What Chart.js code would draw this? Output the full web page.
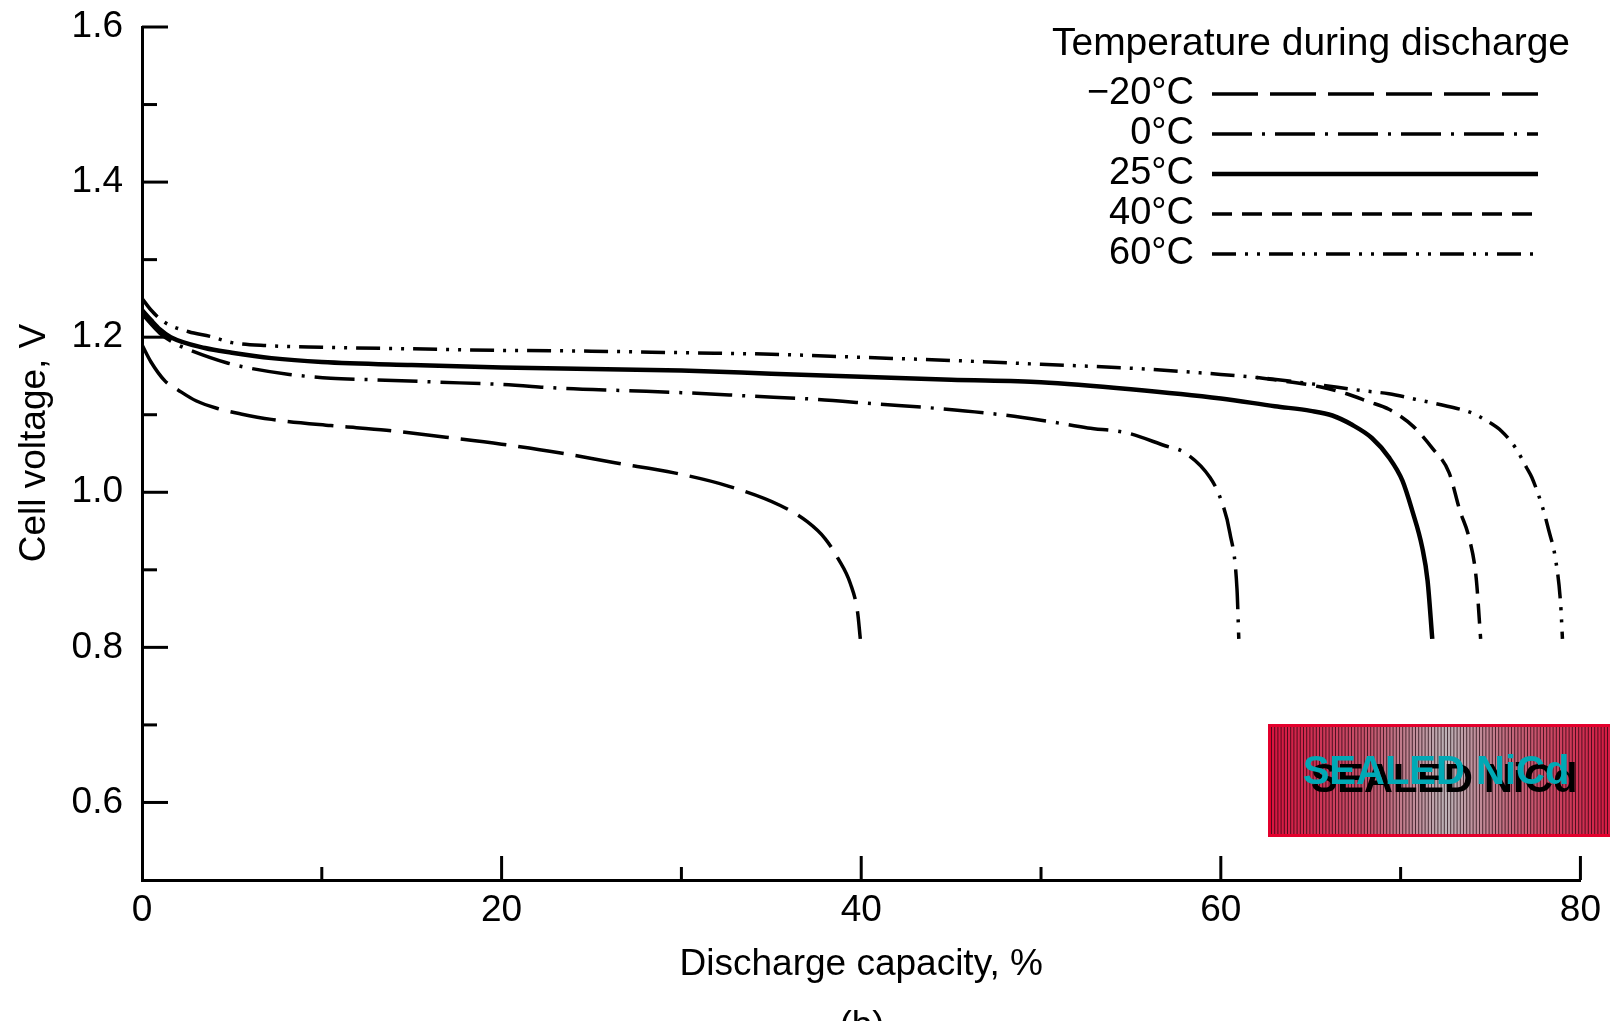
<!DOCTYPE html>
<html>
<head>
<meta charset="utf-8">
<script src="https://cdn.jsdelivr.net/npm/chart.js@4.4.0/dist/chart.umd.min.js"></script>
<style>
  html, body { margin: 0; padding: 0; background: #fff; }
  #wrap { width: 1610px; height: 1021px; }
</style>
</head>
<body>
<div id="wrap"><canvas id="dischargeChart" width="1610" height="1021"></canvas></div>
<script>
// Values (discharge capacity %, cell voltage V)
const tempLabels = ["\u221220\u00b0C", "0\u00b0C", "25\u00b0C", "40\u00b0C", "60\u00b0C"];

const capM20 = [0, 0.5, 1.3, 2, 3, 4.2, 5.5, 7.2, 10.5, 13.6, 16.9, 20, 23.2, 26.3, 29.6, 32.6, 35.5, 37, 38, 38.7, 39.4, 39.8, 39.95];
const voltM20 = [1.19, 1.168, 1.143, 1.132, 1.118, 1.108, 1.101, 1.094, 1.086, 1.080, 1.071, 1.062, 1.051, 1.038, 1.025, 1.008, 0.983, 0.962, 0.940, 0.915, 0.882, 0.845, 0.811];

const cap0 = [0, 1, 2, 2.7, 4.7, 6, 8.2, 10.5, 13, 16.5, 20, 23.4, 27, 30.5, 33.9, 37.4, 40.8, 44.3, 47.8, 50, 52.6, 54.7, 56.9, 58, 59.4, 60, 60.5, 60.9, 61];
const volt0 = [1.23, 1.205, 1.19, 1.183, 1.167, 1.160, 1.152, 1.147, 1.145, 1.142, 1.139, 1.134, 1.131, 1.128, 1.124, 1.12, 1.114, 1.108, 1.100, 1.093, 1.083, 1.077, 1.060, 1.051, 1.019, 0.991, 0.948, 0.875, 0.811];

const cap25 = [0, 0.5, 1, 1.6, 3.5, 5, 7.2, 10, 15, 20, 25, 30, 35, 40, 45, 50, 55, 60, 63, 65, 66.2, 67.3, 68.4, 69.35, 70.1, 70.65, 71.2, 71.5, 71.76];
const volt25 = [1.235, 1.222, 1.21, 1.20, 1.186, 1.18, 1.173, 1.168, 1.164, 1.161, 1.159, 1.157, 1.153, 1.149, 1.145, 1.142, 1.133, 1.121, 1.111, 1.105, 1.099, 1.087, 1.070, 1.045, 1.015, 0.976, 0.929, 0.886, 0.811];

// the 40 °C curve lies on the 60 °C one until it splits off near 63 %
const cap40 = [62, 63, 65.5, 67, 68.2, 69.35, 70.7, 71.76, 72.7, 73.3, 73.8, 74.2, 74.45];
const volt40 = [1.148, 1.145, 1.136, 1.127, 1.117, 1.107, 1.085, 1.057, 1.025, 0.976, 0.942, 0.890, 0.811];

const cap60 = [0, 0.5, 1.2, 2.6, 3.8, 5, 7, 10, 15, 20, 25, 30, 35, 40, 45, 50, 55, 60, 62, 65, 67.9, 69.35, 70.8, 72.6, 74, 74.8, 75.6, 76.4, 77, 77.3, 77.9, 78.25, 78.6, 78.9, 79];
const volt60 = [1.25, 1.235, 1.22, 1.207, 1.201, 1.193, 1.189, 1.187, 1.185, 1.183, 1.182, 1.180, 1.178, 1.174, 1.170, 1.165, 1.160, 1.152, 1.148, 1.140, 1.131, 1.127, 1.12, 1.111, 1.102, 1.092, 1.079, 1.057, 1.032, 1.019, 0.98, 0.95, 0.916, 0.856, 0.811];

const xTickLabels = [0, 20, 40, 60, 80];
const yTickLabels = [0.6, 0.8, 1.0, 1.2, 1.4, 1.6];

const FONT = "'Liberation Sans', Arial, sans-serif";

function toPoints(xs, ys) {
  return xs.map((x, i) => ({ x: x, y: ys[i] }));
}

function isYLabel(v) {
  return yTickLabels.some(t => Math.abs(t - v) < 1e-6);
}

// inward tick marks on both axes + rotated y title
const axisTicks = {
  id: "axisTicks",
  afterDraw(chart) {
    const ctx = chart.ctx;
    const xs = chart.scales.x, ys = chart.scales.y;
    const area = chart.chartArea;
    ctx.save();
    ctx.strokeStyle = "#000";
    ctx.lineWidth = 3;
    ys.ticks.forEach(t => {
      const v = Math.round(t.value * 10) / 10;
      if (v <= 0.5) return;
      const len = isYLabel(v) ? 26 : 15;
      const py = ys.getPixelForValue(v);
      ctx.beginPath();
      ctx.moveTo(area.left, py);
      ctx.lineTo(area.left + len, py);
      ctx.stroke();
    });
    xs.ticks.forEach(t => {
      if (t.value <= 0) return;
      const len = xTickLabels.includes(t.value) ? 24 : 13;
      const px = xs.getPixelForValue(t.value);
      ctx.beginPath();
      ctx.moveTo(px, area.bottom);
      ctx.lineTo(px, area.bottom - len);
      ctx.stroke();
    });

    ctx.translate(35, 443);
    ctx.rotate(-Math.PI / 2);
    ctx.fillStyle = "#000";
    ctx.font = "37px " + FONT;
    ctx.textAlign = "center";
    ctx.textBaseline = "middle";
    ctx.fillText("Cell voltage, V", 0, 0);
    ctx.restore();
  }
};

// legend: label then line sample, as in the figure
const tempLegend = {
  id: "tempLegend",
  afterDraw(chart) {
    const ctx = chart.ctx;
    ctx.save();
    ctx.fillStyle = "#000";
    ctx.font = "39px " + FONT;
    ctx.textAlign = "center";
    ctx.textBaseline = "middle";
    ctx.fillText("Temperature during discharge", 1311, 44);
    ctx.font = "38px " + FONT;
    chart.data.datasets.forEach((ds, i) => {
      const y = 94 + i * 40;
      ctx.textAlign = "right";
      ctx.fillText(ds.label, 1194, y);
      ctx.strokeStyle = "#000";
      ctx.lineWidth = ds.borderWidth;
      ctx.setLineDash(ds.borderDash || []);
      ctx.beginPath();
      ctx.moveTo(1212, y);
      ctx.lineTo(1538, y);
      ctx.stroke();
    });
    ctx.restore();
  }
};

// "SEALED NiCd" badge and the cut-off "(b)"
const badge = {
  id: "badge",
  afterDraw(chart) {
    const ctx = chart.ctx;
    const bx = 1268, by = 724, bw = 342, bh = 113;
    ctx.save();
    const g = ctx.createLinearGradient(bx, 0, bx + bw, 0);
    g.addColorStop(0, "#d8123e");
    g.addColorStop(0.3, "#c4566e");
    g.addColorStop(0.52, "#bdb3b7");
    g.addColorStop(0.72, "#c46479");
    g.addColorStop(1, "#d41a42");
    ctx.fillStyle = g;
    ctx.fillRect(bx, by, bw, bh);
    ctx.strokeStyle = "rgba(25,0,8,0.7)";
    ctx.lineWidth = 1;
    for (let x = bx + 3.5; x < bx + bw; x += 3.2) {
      ctx.beginPath();
      ctx.moveTo(x, by);
      ctx.lineTo(x, by + bh);
      ctx.stroke();
    }
    ctx.strokeStyle = "#e3002c";
    ctx.lineWidth = 3;
    ctx.strokeRect(bx + 1.5, by + 1.5, bw + 5, bh - 3);
    ctx.font = "bold 40px " + FONT;
    ctx.textAlign = "center";
    ctx.textBaseline = "middle";
    ctx.fillStyle = "#000";
    ctx.fillText("SEALED NiCd", 1444, 781);
    ctx.fillStyle = "#00a9b5";
    ctx.fillText("SEALED NiCd", 1436, 773);

    ctx.font = "37px " + FONT;
    ctx.fillStyle = "#000";
    ctx.textBaseline = "alphabetic";
    ctx.fillText("(b)", 862, 1037);
    ctx.restore();
  }
};

const datasetStyle = (label, xs, ys, width, dash) => ({
  label: label,
  data: toPoints(xs, ys),
  borderColor: "#000",
  borderWidth: width,
  borderDash: dash,
  pointRadius: 0,
  fill: false,
  cubicInterpolationMode: "monotone"
});

new Chart(document.getElementById("dischargeChart"), {
  type: "line",
  data: {
    datasets: [
      datasetStyle(tempLabels[0], capM20, voltM20, 3.5, [46, 12]),
      datasetStyle(tempLabels[1], cap0, volt0, 3.5, [40, 10, 3, 10]),
      datasetStyle(tempLabels[2], cap25, volt25, 4.5, []),
      datasetStyle(tempLabels[3], cap40, volt40, 3.5, [20, 10]),
      datasetStyle(tempLabels[4], cap60, volt60, 3.5, [24, 9, 3, 9, 3, 9])
    ]
  },
  options: {
    responsive: false,
    animation: false,
    devicePixelRatio: 1,
    layout: { padding: { top: 27, right: 29, left: 0, bottom: 0 } },
    plugins: {
      legend: { display: false },
      tooltip: { enabled: false }
    },
    scales: {
      x: {
        type: "linear",
        min: 0,
        max: 80,
        afterFit: s => { s.height = 141; },
        grid: { display: false, drawTicks: false },
        border: { display: true, color: "#000", width: 3 },
        ticks: {
          stepSize: 10,
          padding: 9,
          color: "#000",
          font: { family: FONT, size: 37 },
          maxRotation: 0,
          callback: v => xTickLabels.includes(v) ? String(v) : ""
        },
        title: {
          display: true,
          text: "Discharge capacity, %",
          color: "#000",
          font: { family: FONT, size: 37 },
          padding: { top: 0, bottom: 34 }
        }
      },
      y: {
        type: "linear",
        min: 0.5,
        max: 1.6,
        afterFit: s => { s.width = 142; s.paddingTop = 0; s.paddingBottom = 0; },
        grid: { display: false, drawTicks: false },
        border: { display: true, color: "#000", width: 3 },
        ticks: {
          stepSize: 0.1,
          padding: 19,
          color: "#000",
          font: { family: FONT, size: 37 },
          callback: v => {
            const r = Math.round(v * 10) / 10;
            return isYLabel(r) ? r.toFixed(1) : "";
          }
        }
      }
    }
  },
  plugins: [axisTicks, tempLegend, badge]
});
</script>
</body>
</html>
